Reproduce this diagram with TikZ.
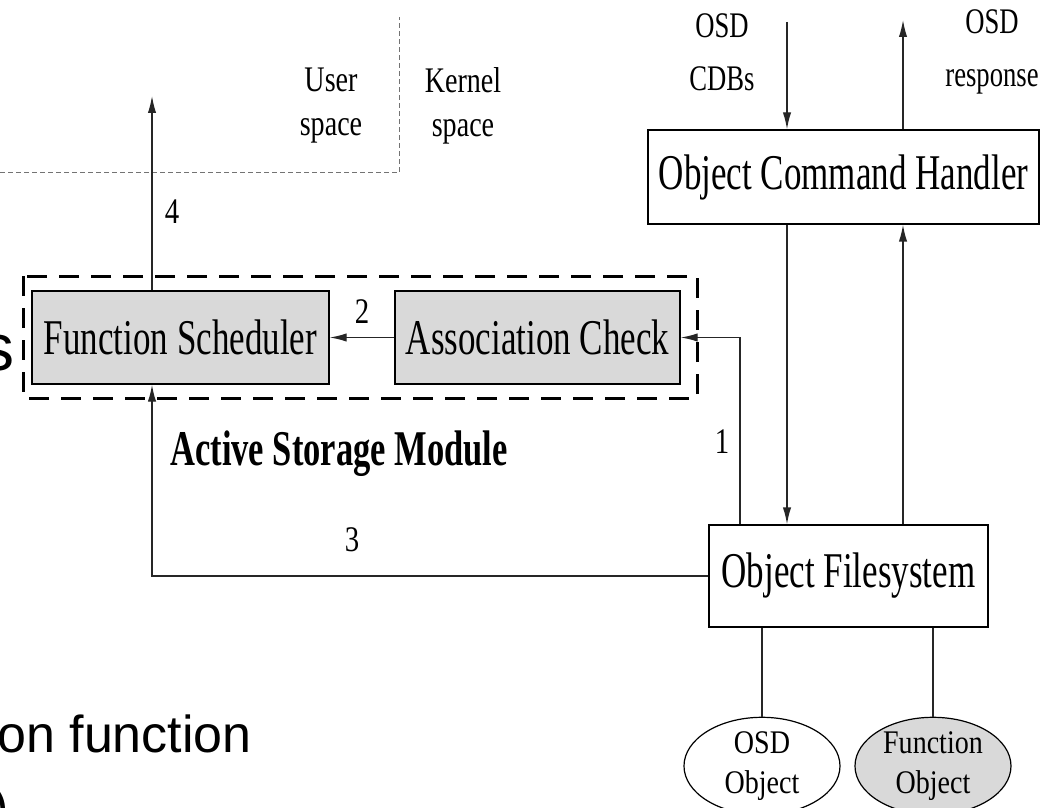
\documentclass[tikz,border=0pt]{standalone}
\usepackage{fontspec}
\setmainfont{Liberation Serif}
\newfontfamily\narrowfont[FakeStretch=0.7]{Liberation Serif}
\newfontfamily\spacefont[FakeStretch=0.78]{Liberation Serif}
\newfontfamily\osdfont[FakeStretch=0.74]{Liberation Serif}
\newfontfamily\ovalfont[FakeStretch=0.85]{Liberation Serif}
\newfontfamily\digitfont[FakeStretch=0.8]{Liberation Serif}
\newfontfamily\modulefont[FakeStretch=0.69]{Liberation Serif}
\newfontfamily\slidefont{Liberation Sans}
\usetikzlibrary{arrows.meta,shapes.geometric}

\begin{document}
\begin{tikzpicture}[x=0.5pt, y=-0.5pt,
    every node/.style={inner sep=0pt},
    block/.style={draw, line width=0.7pt, font=\narrowfont\fontsize{25}{30}\selectfont},
    active/.style={block, fill=black!15},
    objoval/.style={draw, ellipse, line width=0.6pt, align=center,
        minimum width=78pt, minimum height=44pt, font=\ovalfont\fontsize{16.5}{20}\selectfont},
    arr/.style={-{Latex[length=8.5pt,width=4.2pt]}, line width=0.7pt, black!85},
    link/.style={line width=0.7pt, black!85},
    numlabel/.style={font=\digitfont\fontsize{18}{20}\selectfont},
    spacelabel/.style={align=center, font=\spacefont\fontsize{18}{22}\selectfont},
    osdlabel/.style={align=center, font=\osdfont\fontsize{18}{26.5}\selectfont},
    modframe/.style={line width=1.5pt, dash pattern=on 10pt off 6pt},
    spaceline/.style={line width=0.5pt, black!55, dash pattern=on 2.5pt off 1.5pt},
    slidetext/.style={font=\slidefont}]
    \useasboundingbox (0,0) rectangle (1056,808);
    \clip (0,0) rectangle (1056,808);

    % user / kernel border
    \draw[spaceline] (0,173) -- (399,173) -- (399,17);
    \node[spacelabel] (user) at (331,106) {User\\space};
    \node[spacelabel] (kernel) at (463,106) {Kernel\\space};

    % active storage module
    \draw[modframe] (23,276) rectangle (697,398);
    \node[active, minimum width=148.5pt, minimum height=46.5pt] (fsched) at (180.5,337.5) {Function Scheduler};
    \node[active, minimum width=142.5pt, minimum height=46.5pt] (acheck) at (537.5,337.5) {Association Check};
    \node[font=\modulefont\bfseries\fontsize{25}{28}\selectfont] (asm) at (339,454) {Active Storage Module};

    % osd side
    \node[block, minimum width=195.5pt, minimum height=47pt] (och) at (843.5,177) {Object Command Handler};
    \node[block, minimum width=139.5pt, minimum height=51pt] (ofs) at (848.5,576) {Object Filesystem};
    \node[objoval] (osdobj) at (762,766) {OSD\\Object};
    \node[objoval, fill=black!15] (fobj) at (933,766) {Function\\Object};
    \node[osdlabel] (cdblabel) at (722,52) {OSD\\CDBs};
    \node[osdlabel] (rsplabel) at (992,52) {OSD\\response};

    \coordinate (cdb) at (787,22);
    \coordinate (rsp) at (903,20);
    \coordinate (out4) at (152,96);
    \coordinate (up1) at (740,0);

    % commands in and responses out
    \draw[arr] (cdb) -- (cdb |- och.north);
    \draw[arr] (rsp |- och.north) -- (rsp);
    \draw[arr] (cdb |- och.south) -- (cdb |- ofs.north);
    \draw[arr] (rsp |- ofs.north) -- (rsp |- och.south);

    % numbered steps
    \draw[arr] (up1 |- ofs.north) |- (acheck.east);
    \node[numlabel] (n1) at (722,442) {1};
    \draw[arr] (acheck.west) -- (fsched.east);
    \node[numlabel] (n2) at (362,312) {2};
    \draw[arr] (ofs.west) -| (out4 |- fsched.south);
    \node[numlabel] (n3) at (352,540) {3};
    \draw[arr] (fsched.north -| out4) -- (out4);
    \node[numlabel] (n4) at (172,212) {4};

    % objects
    \draw[link] (osdobj.north |- ofs.south) -- (osdobj.north);
    \draw[link] (fobj.north |- ofs.south) -- (fobj.north);

    % slide text cut off at the edge
    \node[slidetext, font=\slidefont\fontsize{33}{36}\selectfont, anchor=base east] (slides) at (15,370) {s};
    \node[slidetext, font=\slidefont\fontsize{26}{30}\selectfont, anchor=base west] (slidefn) at (-3,752) {on function};
    \node[slidetext, font=\slidefont\fontsize{26}{30}\selectfont, anchor=north east] (slidepar) at (9,786) {)};
\end{tikzpicture}
\end{document}
